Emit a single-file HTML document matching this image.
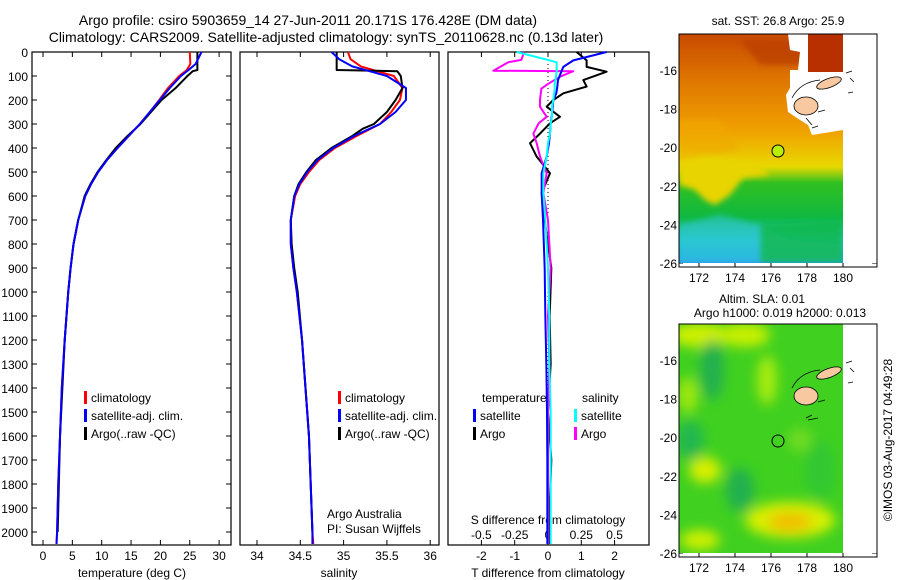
<!DOCTYPE html>
<html><head><meta charset="utf-8">
<style>
body{margin:0;background:#fff;}
svg{display:block;font-family:"Liberation Sans",sans-serif;}
</style></head>
<body>
<svg id="c" width="900" height="580" viewBox="0 0 900 580">
<defs>
<filter id="blur6"><feGaussianBlur stdDeviation="6"/></filter>
<filter id="blur3"><feGaussianBlur stdDeviation="3"/></filter>
<clipPath id="clipM1"><rect x="679" y="34" width="164" height="229"/></clipPath>
<clipPath id="clipM2"><rect x="679" y="324" width="164" height="229"/></clipPath>
<linearGradient id="sstg" x1="0" y1="0" x2="0" y2="1">
<stop offset="0" stop-color="#c84a00"/><stop offset="0.22" stop-color="#e07a00"/>
<stop offset="0.42" stop-color="#f0a000"/><stop offset="0.58" stop-color="#e8d800"/>
<stop offset="0.65" stop-color="#30c020"/><stop offset="0.8" stop-color="#10b840"/>
<stop offset="0.9" stop-color="#20c8c8"/><stop offset="1" stop-color="#2098f0"/>
</linearGradient>
</defs>
<g font-size="14" text-anchor="middle" fill="#000">
<text x="308" y="25">Argo profile: csiro 5903659_14 27-Jun-2011 20.171S 176.428E (DM data)</text>
<text x="326" y="42">Climatology: CARS2009. Satellite-adjusted climatology: synTS_20110628.nc (0.13d later)</text>
</g>
<g id="plots"></g>

<g>
<text x="778" y="25" font-size="12" text-anchor="middle">sat. SST: 26.8 Argo: 25.9</text>
<g clip-path="url(#clipM1)">
<rect x="679" y="34" width="164" height="229" fill="url(#sstg)"/>
<g filter="url(#blur3)">
<path d="M679,150 L760,165 L770,175 L743,178 L730,195 L715,205 L705,200 L695,190 L679,185Z" fill="#e8d400"/>
<path d="M679,120 L720,120 L740,150 L679,160Z" fill="#f0a800" opacity="0.6"/>
<path d="M679,225 L720,215 L760,225 L790,240 L843,245 L843,263 L679,263Z" fill="#30c8d8" opacity="0.6"/>
<path d="M760,225 L843,220 L843,263 L760,263Z" fill="#10b848" opacity="0.8"/>
<path d="M740,40 L800,40 L805,65 L760,65Z" fill="#b83c00" opacity="0.7"/>
</g>
<path d="M788,34 L808,34 L808,72 L843,72 L843,130 L812,135 L808,125 L800,120 L788,112 L786,95 L790,88 L790,70 L798,70 L800,52 L790,50Z" fill="#fff"/>
<rect x="808" y="34" width="35" height="38" fill="#b83000"/>
<ellipse cx="806" cy="106" rx="12" ry="9" fill="#f8c8a0" stroke="#000" stroke-width="0.8"/>
<ellipse cx="829" cy="83" rx="13" ry="4.5" fill="#f8c8a0" stroke="#000" stroke-width="0.8" transform="rotate(-20 829 83)"/>
<path d="M792,98 Q800,82 820,80 M818,112 L825,110 M806,118 L812,125 M812,128 L818,126" stroke="#000" stroke-width="0.8" fill="none"/>
<circle cx="778" cy="151" r="6" fill="#b8f000" stroke="#000" stroke-width="1"/>
</g>
<rect x="843" y="34" width="34" height="229" fill="#fff"/>
<path d="M846,73 L852,71 M850,78 L854,82 M848,93 L853,92" stroke="#000" stroke-width="0.8"/>
<rect x="679" y="34" width="198" height="233" fill="none" stroke="#000" stroke-width="1"/>
</g>

<g>
<text x="762" y="303" font-size="12" text-anchor="middle">Altim. SLA: 0.01</text>
<text x="780" y="317" font-size="12" text-anchor="middle">Argo h1000: 0.019 h2000: 0.013</text>
<g clip-path="url(#clipM2)">
<rect x="679" y="324" width="164" height="229" fill="#40d020"/>
<g filter="url(#blur6)">
<ellipse cx="700" cy="335" rx="30" ry="12" fill="#d0f000"/>
<ellipse cx="745" cy="335" rx="25" ry="12" fill="#c8f000"/>
<ellipse cx="712" cy="370" rx="12" ry="30" fill="#20b050"/>
<ellipse cx="690" cy="440" rx="14" ry="20" fill="#20b850"/>
<ellipse cx="688" cy="395" rx="10" ry="18" fill="#a0e810"/>
<ellipse cx="767" cy="380" rx="10" ry="25" fill="#a8ec10"/>
<ellipse cx="705" cy="470" rx="16" ry="13" fill="#d8f000"/>
<ellipse cx="740" cy="490" rx="14" ry="22" fill="#20b050"/>
<ellipse cx="790" cy="520" rx="45" ry="18" fill="#d8f000"/>
<ellipse cx="790" cy="522" rx="22" ry="10" fill="#f0c000"/>
<ellipse cx="700" cy="540" rx="20" ry="10" fill="#d0f000"/>
<ellipse cx="820" cy="470" rx="15" ry="30" fill="#30c830"/>
<ellipse cx="800" cy="440" rx="12" ry="12" fill="#70dc20"/>
</g>
<ellipse cx="806" cy="396" rx="12" ry="9" fill="#f8c8a0" stroke="#000" stroke-width="0.8"/>
<ellipse cx="829" cy="373" rx="13" ry="4.5" fill="#f8c8a0" stroke="#000" stroke-width="0.8" transform="rotate(-20 829 373)"/>
<path d="M792,388 Q800,372 820,370 M818,402 L825,400 M806,418 L812,415 M808,420 L818,418" stroke="#000" stroke-width="0.8" fill="none"/>
<circle cx="778" cy="441" r="6" fill="none" stroke="#000" stroke-width="1"/>
</g>
<rect x="843" y="324" width="34" height="229" fill="#fff"/>
<path d="M846,363 L852,361 M850,368 L854,372 M848,383 L853,382" stroke="#000" stroke-width="0.8"/>
<rect x="679" y="324" width="198" height="233" fill="none" stroke="#000" stroke-width="1"/>
</g>
<text transform="translate(892,440) rotate(-90)" font-size="12" text-anchor="middle">©IMOS 03-Aug-2017 04:49:28</text>
</svg>
<script>
const tDepth = [0,50,75,100,150,200,250,300,350,400,450,500,550,600,700,800,900,1000,1200,1400,1600,1800,2000,2050];
const tClim  = [25,25.1,24.5,23.2,21.3,19.8,18.2,16.5,14.6,12.7,10.9,9.4,8.2,7.2,6.0,5.2,4.7,4.3,3.7,3.2,2.9,2.6,2.4,2.3];
const tSat   = [27.0,26.0,24.8,23.5,21.6,19.9,18.2,16.5,14.6,12.7,10.9,9.4,8.2,7.2,6.0,5.2,4.7,4.3,3.7,3.2,2.9,2.6,2.4,2.3];
const tArgoDepth = [0,75,80,100,120,150,200,250,300,350,400,450,500,550,600,700,800,900,1000,1200,1400,1600,1800,2000];
const tArgo  = [26.3,26.3,25.5,24.6,23.8,22.6,20.2,18.4,16.6,14.4,12.4,10.8,9.3,8.1,7.1,6.0,5.2,4.7,4.3,3.7,3.3,2.9,2.7,2.5];
const sDepth = [0,30,60,100,150,200,250,300,350,400,450,500,550,600,700,800,900,1000,1200,1400,1600,1800,2000,2050];
const sClim  = [35.05,35.08,35.2,35.58,35.68,35.65,35.55,35.42,35.15,34.9,34.72,34.6,34.5,34.44,34.39,34.39,34.42,34.46,34.52,34.56,34.6,34.62,34.64,34.65];
const sSat   = [34.86,34.95,35.1,35.5,35.72,35.72,35.6,35.42,35.12,34.88,34.7,34.58,34.49,34.43,34.39,34.39,34.42,34.46,34.52,34.56,34.6,34.62,34.64,34.64];
const sArgoDepth = [0,75,80,100,150,200,250,300,320,350,400,450,500,550,600,700,800,900,1000,1200,1400,1600,1800,2000];
const sArgo  = [34.92,34.92,35.62,35.66,35.68,35.6,35.5,35.35,35.22,35.1,34.86,34.68,34.57,34.48,34.43,34.39,34.40,34.43,34.47,34.52,34.56,34.6,34.62,34.64];
const dDepth = [0,35,62,82,117,144,172,200,228,270,297,340,380,436,505,588,700,900,1100,1300,1500,1700,1900,2050];
const dTArgo = [0.86,1.16,1.16,1.76,1.06,1.16,0.46,0.16,-0.04,0.36,0.06,-0.24,-0.54,-0.34,0.06,-0.19,-0.1,0.1,0.05,0.08,0.0,0.1,0.05,0.05];
const dTSat  = [1.76,0.76,0.46,0.4,0.3,0.28,0.25,0.16,0.14,0.11,0.08,0.06,0.03,-0.04,-0.19,-0.19,-0.15,-0.1,-0.08,-0.05,-0.03,-0.02,-0.02,-0.02];
const dSDepth= [0,33,43,78,80,103,133,153,200,228,270,297,340,380,436,505,588,700,900,1100,1300,1500,1700,1900,2050];
const dSSat  = [-0.235,0,0.065,0.065,0.065,0.06,0.05,0.05,0.04,0.03,0.03,0.02,0.015,0,-0.01,-0.035,-0.035,-0.02,0.0,0.01,0.01,0.02,0.02,0.02,0.02];
const dSArgo = [-0.18,-0.2,-0.3,-0.41,0.19,0.09,0.0,-0.05,-0.06,-0.06,-0.01,-0.07,-0.11,-0.085,-0.06,-0.01,-0.035,0.0,0.02,0.0,0.01,0.0,0.0,0.0,0.0];
const depthTicks = [0,100,200,300,400,500,600,700,800,900,1000,1100,1200,1300,1400,1500,1600,1700,1800,1900,2000];
const tTicks = [0,5,10,15,20,25,30];
const sTicks = [34,34.5,35,35.5,36];
const sTickLabels = ["34","34.5","35","35.5","36"];
const dTTicks = [-2,-1,0,1,2];
const dSTicks = [-0.5,-0.25,0,0.25,0.5];
const dSTickLabels = ["-0.5","-0.25","0","0.25","0.5"];
const latTicks = [-16,-18,-20,-22,-24,-26];
const lonTicks = [172,174,176,178,180];

const NS = "http://www.w3.org/2000/svg";
const root = document.getElementById('plots');
const Y = d => 52 + d * 0.24;
const xT = v => 43 + v * 5.87;
const xS = v => 257 + (v - 34) * 86.6;
const xDT = v => 548 + v * 33.3;
const xDS = v => 548 + v * 133.2;
const lonX = v => 699 + (v - 172) * 18;
const lat1Y = v => 70 + (-16 - v) * 19.3;
const lat2Y = v => 360 + (-16 - v) * 19.3;

function mk(tag, attrs, parent) {
  const e = document.createElementNS(NS, tag);
  for (const k in attrs) e.setAttribute(k, attrs[k]);
  (parent || root).appendChild(e);
  return e;
}
function txt(x, y, s, size, anchor, name) {
  const t = mk('text', {x: x, y: y, 'font-size': size, 'text-anchor': anchor || 'middle', fill: '#000'});
  t.textContent = s;
  
  
  return t;
}
function line(depths, vals, xf, color, name, w) {
  let pts = [];
  for (let i = 0; i < vals.length; i++) pts.push(xf(vals[i]) + ',' + Y(depths[i]));
  const p = mk('polyline', {points: pts.join(' '), fill: 'none', stroke: color, 'stroke-width': w || 2, 'stroke-linejoin': 'round'});
  
  
}
function frame(x0, x1, name) {
  const r = mk('rect', {x: x0, y: 52, width: x1 - x0, height: 493, fill: 'none', stroke: '#000', 'stroke-width': 1.2});
  
  
}
function xticks(ticks, xf, labels, name) {
  ticks.forEach((v, i) => {
    const x = xf(v);
    mk('line', {x1: x, y1: 545, x2: x, y2: 540, stroke: '#000'});
    mk('line', {x1: x, y1: 52, x2: x, y2: 57, stroke: '#000'});
    txt(x, 560, labels ? labels[i] : String(v), 12, 'middle', name);
  });
}
frame(32, 231, 'temperature-panel');
frame(240, 439, 'salinity-panel');
frame(448, 649, 'difference-panel');
depthTicks.forEach(d => {
  const y = Y(d);
  mk('line', {x1: 32, y1: y, x2: 37, y2: y, stroke: '#000'});
  mk('line', {x1: 226, y1: y, x2: 231, y2: y, stroke: '#000'});
  txt(28, y + 5, String(d), 12, 'end', 'depth-tick-label');
});
xticks(tTicks, xT, null, 'temperature-tick-label');
xticks(sTicks, xS, sTickLabels, 'salinity-tick-label');
xticks(dTTicks, xDT, null, 't-diff-tick-label');
dSTicks.forEach((v, i) => txt(xDS(v), 539, dSTickLabels[i], 12, 'middle', 's-diff-tick-label'));
txt(132, 577, 'temperature (deg C)', 12, 'middle', 'temperature-axis-title');
txt(339, 577, 'salinity', 12, 'middle', 'salinity-axis-title');
txt(548, 577, 'T difference from climatology', 12, 'middle', 't-diff-axis-title');
txt(548, 524, 'S difference from climatology', 12, 'middle', 's-diff-axis-title');
mk('line', {x1: xDT(0), y1: 52, x2: xDT(0), y2: 545, stroke: '#000', 'stroke-dasharray': '1,3'});

line(tDepth, tClim, xT, '#f00', 'temp-climatology-line');
line(tArgoDepth, tArgo, xT, '#000', 'temp-argo-line');
line(tDepth, tSat, xT, '#00f', 'temp-satellite-line');
line(sDepth, sClim, xS, '#f00', 'sal-climatology-line');
line(sArgoDepth, sArgo, xS, '#000', 'sal-argo-line');
line(sDepth, sSat, xS, '#00f', 'sal-satellite-line');
line(dDepth, dTArgo, xDT, '#000', 't-diff-argo-line');
line(dSDepth, dSArgo, xDS, '#f0f', 's-diff-argo-line');
line(dDepth, dTSat, xDT, '#00f', 't-diff-satellite-line');
line(dSDepth, dSSat, xDS, '#0ff', 's-diff-satellite-line');

function legItem(x, y, color, label, name) {
  const r = mk('rect', {x: x, y: y - 11, width: 3, height: 13, fill: color});
  
  
  txt(x + 7, y, label, 12, 'start', name);
}
[[84, 'temperature-legend'], [338, 'salinity-legend']].forEach(([x, n]) => {
  legItem(x, 402, '#f00', 'climatology', n + '-climatology');
  legItem(x, 420, '#00f', 'satellite-adj. clim.', n + '-satellite');
  legItem(x, 438, '#000', 'Argo(..raw -QC)', n + '-argo');
});
txt(482, 402, 'temperature', 12, 'start', 'diff-legend-temperature-header');
txt(582, 402, 'salinity', 12, 'start', 'diff-legend-salinity-header');
legItem(473, 420, '#00f', 'satellite', 'diff-legend-t-satellite');
legItem(473, 438, '#000', 'Argo', 'diff-legend-t-argo');
legItem(574, 420, '#0ff', 'satellite', 'diff-legend-s-satellite');
legItem(574, 438, '#f0f', 'Argo', 'diff-legend-s-argo');
txt(327, 518, 'Argo Australia', 12, 'start', 'credit-argo-australia');
txt(327, 533, 'PI: Susan Wijffels', 12, 'start', 'credit-pi');

[[lat1Y, 34, 267], [lat2Y, 324, 557]].forEach(([ly, top, bot]) => {
  latTicks.forEach(v => {
    const y = ly(v);
    mk('line', {x1: 877, y1: y, x2: 872, y2: y, stroke: '#000'});
    mk('line', {x1: 679, y1: y, x2: 683, y2: y, stroke: '#000'});
    txt(677, y + 5, String(v), 12, 'end', 'map-lat-tick-label');
  });
  lonTicks.forEach(v => {
    const x = lonX(v);
    mk('line', {x1: x, y1: bot, x2: x, y2: bot - 4, stroke: '#000'});
    mk('line', {x1: x, y1: top, x2: x, y2: top + 4, stroke: '#000'});
    txt(x, bot + 15, String(v), 12, 'middle', 'map-lon-tick-label');
  });
});
</script>
</body></html>
